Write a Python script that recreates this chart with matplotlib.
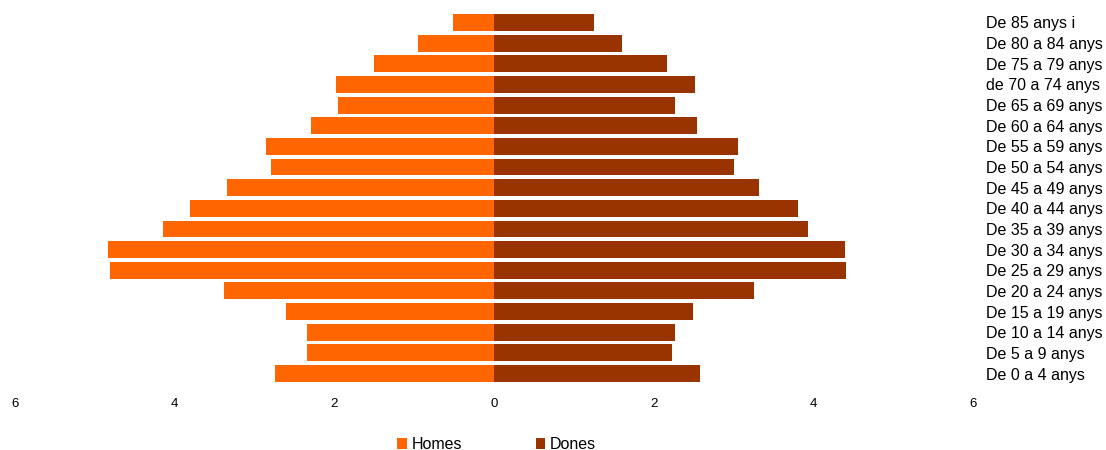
import matplotlib
matplotlib.use("Agg")
import matplotlib.pyplot as plt
from matplotlib.ticker import FuncFormatter, MultipleLocator
from matplotlib.patches import Patch

plt.rcParams['font.family'] = ['Liberation Sans', 'DejaVu Sans']

# Age groups, youngest first (drawn bottom to top)
age_groups = [
    "De 0 a 4 anys", "De 5 a 9 anys", "De 10 a 14 anys", "De 15 a 19 anys",
    "De 20 a 24 anys", "De 25 a 29 anys", "De 30 a 34 anys", "De 35 a 39 anys",
    "De 40 a 44 anys", "De 45 a 49 anys", "De 50 a 54 anys", "De 55 a 59 anys",
    "De 60 a 64 anys", "De 65 a 69 anys", "de 70 a 74 anys", "De 75 a 79 anys",
    "De 80 a 84 anys", "De 85 anys i",
]

# Share of population (%) per age group
homes = [2.74, 2.34, 2.34, 2.61, 3.38, 4.81, 4.84, 4.15, 3.81, 3.35,
         2.79, 2.86, 2.29, 1.95, 1.98, 1.50, 0.95, 0.51]
dones = [2.58, 2.23, 2.26, 2.49, 3.25, 4.41, 4.39, 3.93, 3.80, 3.32,
         3.00, 3.05, 2.54, 2.27, 2.52, 2.17, 1.60, 1.25]

series_names = ["Homes", "Dones"]
colors = ["#FF6600", "#993300"]

fig = plt.figure(figsize=(11.06, 4.5), dpi=100)
ax = fig.add_axes([0.0136, 0.147, 0.8663, 0.826])

y = list(range(len(age_groups)))
ax.barh(y, [-v for v in homes], height=0.82, color=colors[0], linewidth=0)
ax.barh(y, dones, height=0.82, color=colors[1], linewidth=0)

ax.set_xlim(-6, 6)
ax.set_ylim(-0.5, len(age_groups) - 0.5)
ax.xaxis.set_major_locator(MultipleLocator(2))
ax.xaxis.set_major_formatter(FuncFormatter(lambda v, p: f"{abs(v):g}"))

ax.set_yticks(y)
ax.set_yticklabels(age_groups)
ax.yaxis.tick_right()

ax.tick_params(axis='y', length=0, pad=9.5, labelsize=11.5, colors='#000000')
ax.tick_params(axis='x', length=0, pad=10.5, labelsize=9.5, colors='#000000')

for s in ax.spines.values():
    s.set_visible(False)

handles = [Patch(facecolor=c, edgecolor='none') for c in colors]
fig.legend(handles, series_names, loc='center', bbox_to_anchor=(0.449, 0.012),
           ncol=2, frameon=False, fontsize=11.5, handlelength=0.6,
           handleheight=0.75, handletextpad=0.3, columnspacing=4.6,
           borderpad=0, borderaxespad=0)

fig.savefig("out.png", dpi=100, facecolor='white')
